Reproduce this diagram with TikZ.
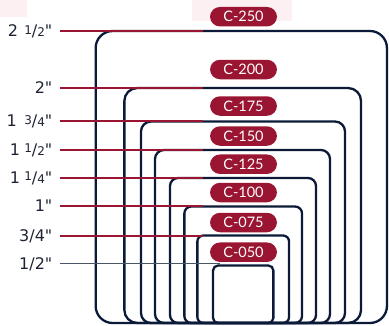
\documentclass[tikz,border=0pt]{standalone}
\usepackage{fontspec}
\setmainfont{Lato}
\newfontfamily\labfont{DejaVu Sans}
\definecolor{navy}{HTML}{0B1A38}
\definecolor{crimson}{HTML}{9A1531}
\definecolor{slate}{HTML}{4A5568}
\definecolor{labtxt}{HTML}{1E2433}
\definecolor{wmark}{HTML}{FCF0F2}
\newcommand{\frc}[2]{\raisebox{2.4pt}{\fontsize{12}{12}\selectfont #1}/{\fontsize{12}{12}\selectfont #2}}
\newcommand{\qt}{\symbol{"22}}
\begin{document}
\begin{tikzpicture}[x=1pt,y=-1pt,
  box/.style={draw=navy, line width=2.3pt, inner sep=0pt, outer sep=0pt},
  pill/.style={fill=crimson, text=white, rounded corners=10pt, minimum width=67pt, minimum height=19.5pt, inner sep=0pt, font=\fontsize{14.5}{14.5}\selectfont},
  lab/.style={anchor=east, text=labtxt, inner sep=0pt, text height=11.7pt, text depth=0pt, font=\labfont\fontsize{16}{16}\selectfont},
  redline/.style={draw=crimson, line width=2pt},
  grayline/.style={draw=slate, line width=1.8pt}]
\useasboundingbox (0,0) rectangle (389,325);
% faint watermark
\fill[wmark] (0,0) rectangle (27,17);
\fill[wmark] (67,0) arc[start angle=180, end angle=360, radius=55, y radius=23];
\fill[wmark] (192,0) rectangle (292,21);
\fill[wmark] (300,0) arc[start angle=180, end angle=270, radius=89, y radius=17] -- (389,0) -- cycle;
% boxes
\node[box, rounded corners=17pt, minimum width=291.3pt, minimum height=292pt] (b250) at (241.3,177) {};
\node[box, rounded corners=13pt, minimum width=236.7pt, minimum height=235pt] (b200) at (242.7,205.5) {};
\node[box, rounded corners=10pt, minimum width=204pt, minimum height=201.5pt] (b175) at (243,222.25) {};
\node[box, rounded corners=9pt, minimum width=175pt, minimum height=173pt] (b150) at (242.5,236.5) {};
\node[box, rounded corners=8pt, minimum width=146pt, minimum height=145pt] (b125) at (243,250.5) {};
\node[box, rounded corners=7pt, minimum width=117.7pt, minimum height=116.5pt] (b100) at (243.2,264.75) {};
\node[box, rounded corners=6pt, minimum width=91.7pt, minimum height=87.5pt] (b075) at (243.2,279.25) {};
\node[box, rounded corners=5pt, minimum width=60.3pt, minimum height=57.5pt] (b050) at (243.2,294.25) {};
% pills
\node[pill] (p250) at (243.5,16.7) {C-250};
\node[pill] (p200) at (243.5,69.5) {C-200};
\node[pill] (p175) at (243.5,106) {C-175};
\node[pill] (p150) at (243.5,136) {C-150};
\node[pill] (p125) at (243.5,164.2) {C-125};
\node[pill] (p100) at (243.5,192.5) {C-100};
\node[pill] (p075) at (243.5,222.5) {C-075};
\node[pill] (p050) at (243.5,252.2) {C-050};
% labels
\node[lab] (l250) at (52.5,31) {2\hspace{6.2pt}\frc{1}{2}\qt};
\node[lab] (l200) at (52.5,88) {2\qt};
\node[lab] (l175) at (52.5,121) {1\hspace{7.5pt}\frc{3}{4}\qt};
\node[lab] (l150) at (52.5,149.5) {1\hspace{4.2pt}\frc{1}{2}\qt};
\node[lab] (l125) at (52.5,177.5) {1\hspace{4.2pt}\frc{1}{4}\qt};
\node[lab] (l100) at (52.5,205.5) {1\qt};
\node[lab] (l075) at (52.5,235.5) {3/4\qt};
\node[lab] (l050) at (52.5,263.5) {1/2\qt};
% line ends
\coordinate (e250) at (203,31);
\coordinate (e200) at (203,88);
\coordinate (e175) at (203,121);
\coordinate (e150) at (203,149.5);
\coordinate (e125) at (203,177.5);
\coordinate (e100) at (203,205.5);
\coordinate (e075) at (203,235.5);
\coordinate (e050) at (220,263.5);
\draw[redline] ([xshift=7.5pt]l250.east) -- (e250);
\draw[redline] ([xshift=7.5pt]l200.east) -- (e200);
\draw[redline] ([xshift=7.5pt]l175.east) -- (e175);
\draw[redline] ([xshift=7.5pt]l150.east) -- (e150);
\draw[redline] ([xshift=7.5pt]l125.east) -- (e125);
\draw[redline] ([xshift=7.5pt]l100.east) -- (e100);
\draw[redline] ([xshift=7.5pt]l075.east) -- (e075);
\draw[grayline] ([xshift=7.5pt]l050.east) -- (e050);
\end{tikzpicture}
\end{document}
